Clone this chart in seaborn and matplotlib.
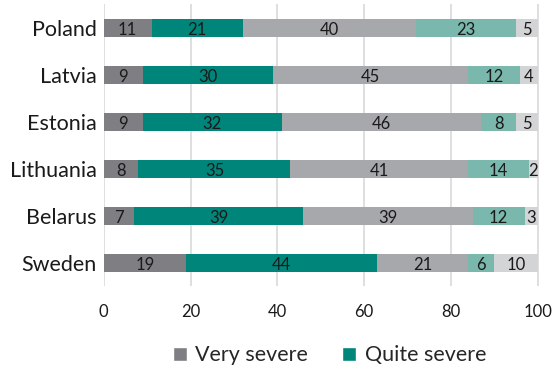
import numpy as np
import pandas as pd
import matplotlib
matplotlib.use("Agg")
import matplotlib.pyplot as plt
from matplotlib.patches import Patch
import seaborn as sns

countries = ["Poland", "Latvia", "Estonia", "Lithuania", "Belarus", "Sweden"]
very_severe = [11, 9, 9, 8, 7, 19]
quite_severe = [21, 30, 32, 35, 39, 44]
moderate = [40, 45, 46, 41, 39, 21]
mild = [23, 12, 8, 14, 12, 6]
other = [5, 4, 5, 2, 3, 10]
series_names = ["Very severe", "Quite severe", "Moderate", "Mild", "Other"]
x_ticks = [0, 20, 40, 60, 80, 100]

colors = ["#7f7f83", "#00857a", "#a7a8ab", "#7ab7ad", "#d3d4d6"]

sns.set_theme(style="white")
plt.rcParams["font.family"] = ["Lato", "DejaVu Sans"]

series = [very_severe, quite_severe, moderate, mild, other]
df = pd.DataFrame({"country": countries})
for name, vals in zip(series_names, series):
    df[name] = vals
cum = df[series_names].cumsum(axis=1)

fig = plt.figure(figsize=(5.52, 3.72), dpi=100)
ax = fig.add_axes([0.188, 0.23, 0.79, 0.758])

for x in x_ticks:
    ax.axvline(x, color="#d9d9d9", lw=1.2, zorder=0)

# draw cumulative totals from the back so each segment shows its own share
for i in range(len(series_names) - 1, -1, -1):
    sns.barplot(x=cum[series_names[i]], y=df["country"], orient="h",
                color=colors[i], width=0.38, ax=ax, zorder=2,
                saturation=1, linewidth=0)

for i, name in enumerate(series_names):
    ends = cum[name].values
    vals = df[name].values
    for j, (e, v) in enumerate(zip(ends, vals)):
        ax.text(e - v / 2, j + 0.04, str(v), ha="center", va="center",
                fontsize=12, color="#1a1a1a", zorder=5)

ax.set_xlim(0, 100.5)
ax.set_ylim(5.5, -0.5)
ax.set_xticks(x_ticks)
ax.set_xlabel("")
ax.set_ylabel("")
ax.tick_params(axis="x", labelsize=12, length=0, pad=13, colors="#1a1a1a")
ax.tick_params(axis="y", labelsize=15.5, length=0, pad=5, colors="#1a1a1a")
for s in ax.spines.values():
    s.set_visible(False)

handles = [Patch(facecolor=colors[0], label="Very severe"),
           Patch(facecolor=colors[1], label="Quite severe")]
fig.legend(handles=handles, loc="center", bbox_to_anchor=(0.597, 0.045),
           ncol=2, frameon=False, fontsize=15.5, handlelength=0.65,
           handleheight=0.65, columnspacing=1.6, handletextpad=0.4)

fig.savefig("out.png", dpi=100)
